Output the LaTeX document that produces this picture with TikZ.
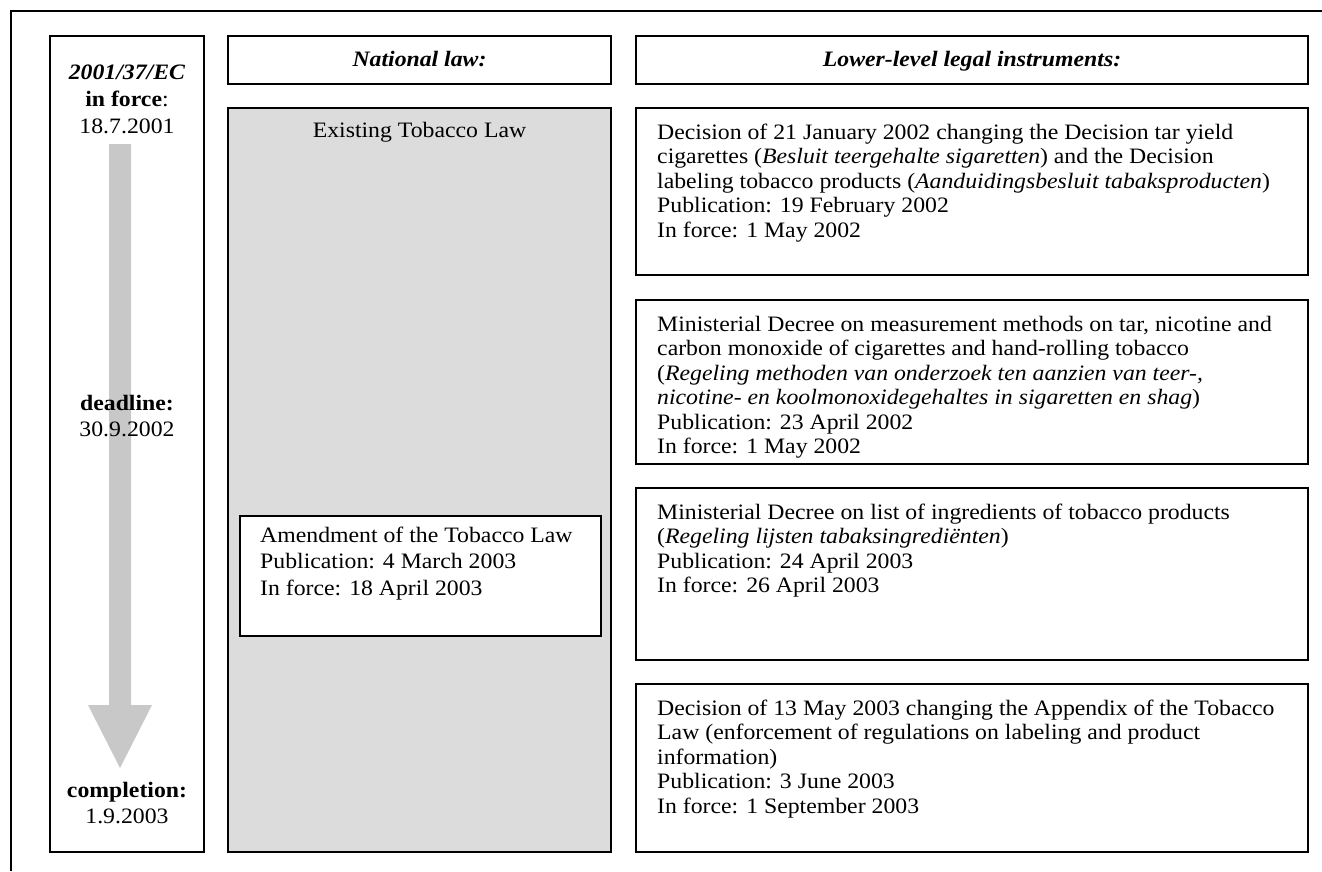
\documentclass[tikz,border=0pt]{standalone}
\usepackage{fontspec}
\setmainfont{Liberation Serif}[FakeStretch=1.08]
\usetikzlibrary{calc}
\definecolor{arrowgrey}{HTML}{C8C8C8}
\definecolor{lawgrey}{HTML}{DCDCDC}
\tikzset{
  box/.style={draw=black, line width=1.6pt, anchor=north west, inner sep=0pt, outer sep=0pt},
  txt/.style={anchor=north west, inner sep=0pt, align=left, font=\fontsize{22}{24.5}\selectfont},
  atxt/.style={anchor=north west, inner sep=0pt, align=left, font=\fontsize{22}{26.5}\selectfont},
  ctxt/.style={anchor=base, inner sep=0pt, font=\fontsize{22}{26.5}\selectfont},
}
\newcommand{\st}{\rule{0pt}{17pt}}
\begin{document}
\begin{tikzpicture}[x=1pt,y=-1pt]
\useasboundingbox (0,0) rectangle (1322,871);
% outer frame (cropped)
\draw[line width=1.6pt] (11,871) -- (11,11) -- (1322,11);

% left column
\node[box, minimum width=154pt, minimum height=816pt] (lb) at (50,36) {};
\fill[arrowgrey] (109,144) -- (131,144) -- (131,705) -- (152,705) -- (120,768) -- (88,705) -- (109,705) -- cycle;
\node[ctxt] (ec) at (127,79) {\textbf{\textit{2001/37/EC}}};
\node[ctxt] (inf) at (127,106) {\textbf{in force}:};
\node[ctxt] (d1) at (127,133) {18.7.2001};
\node[ctxt] (dl) at (127,410) {\textbf{deadline:}};
\node[ctxt] (d2) at (127,436) {30.9.2002};
\node[ctxt] (cp) at (127,797) {\textbf{completion:}};
\node[ctxt] (d3) at (127,823) {1.9.2003};

% headers
\node[box, minimum width=383pt, minimum height=48pt] (hn) at (228,36) {};
\node[ctxt] (hnt) at (419.5,66) {\textbf{\textit{National law:}}};
\node[box, minimum width=672pt, minimum height=48pt] (hl) at (636,36) {};
\node[ctxt] (hlt) at (972,66) {\textbf{\textit{Lower-level legal instruments:}}};

% national law column
\node[box, fill=lawgrey, minimum width=383pt, minimum height=744pt] (law) at (228,108) {};
\node[ctxt] (lawt) at (419.5,137) {Existing Tobacco Law};
\node[box, fill=white, minimum width=361pt, minimum height=120pt] (am) at (240,516) {};
\node[atxt] (amt) at (260,525) {\st Amendment of the Tobacco Law\\Publication: 4 March 2003\\In force: 18 April 2003};

% lower-level instruments
\node[box, minimum width=672pt, minimum height=167pt] (r1) at (636,108) {};
\node[txt] (r1t) at (657,122) {\st Decision of 21 January 2002 changing the Decision tar yield\\cigarettes (\textit{Besluit teergehalte sigaretten}) and the Decision\\labeling tobacco products (\textit{Aanduidingsbesluit tabaksproducten})\\Publication: 19 February 2002\\In force: 1 May 2002};

\node[box, minimum width=672pt, minimum height=164pt] (r2) at (636,300) {};
\node[txt] (r2t) at (657,314) {\st Ministerial Decree on measurement methods on tar, nicotine and\\carbon monoxide of cigarettes and hand-rolling tobacco\\(\textit{Regeling methoden van onderzoek ten aanzien van teer-,}\\\textit{nicotine- en koolmonoxidegehaltes in sigaretten en shag})\\Publication: 23 April 2002\\In force: 1 May 2002};

\node[box, minimum width=672pt, minimum height=172pt] (r3) at (636,488) {};
\node[txt] (r3t) at (657,502) {\st Ministerial Decree on list of ingredients of tobacco products\\(\textit{Regeling lijsten tabaksingrediënten})\\Publication: 24 April 2003\\In force: 26 April 2003};

\node[box, minimum width=672pt, minimum height=168pt] (r4) at (636,684) {};
\node[txt] (r4t) at (657,698) {\st Decision of 13 May 2003 changing the Appendix of the Tobacco\\Law (enforcement of regulations on labeling and product\\information)\\Publication: 3 June 2003\\In force: 1 September 2003};
\end{tikzpicture}
\end{document}
